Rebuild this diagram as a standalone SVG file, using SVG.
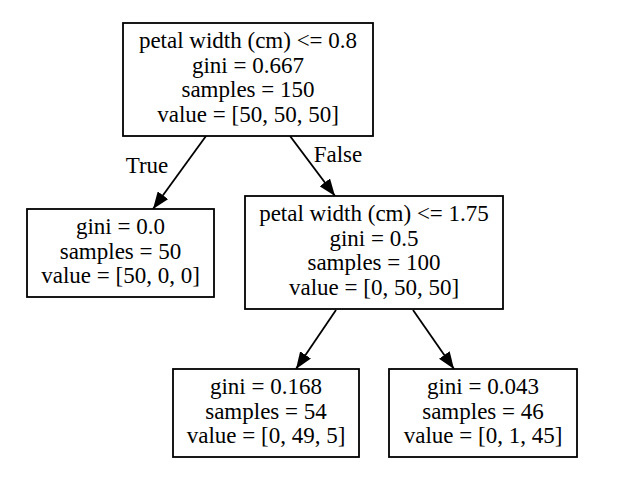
<svg xmlns="http://www.w3.org/2000/svg" width="623" height="478" viewBox="0 0 623 478">
<style>
.box{fill:#fff;stroke:#000;stroke-width:1.8}
text{font-family:"Liberation Serif","Times New Roman",serif;font-size:23px;fill:#000;text-anchor:middle}
.edge{stroke:#000;stroke-width:1.8;fill:none;marker-end:url(#ah)}
</style>
<defs>
<marker id="ah" viewBox="0 0 17 13" refX="17" refY="6.5" markerWidth="17" markerHeight="13" orient="auto" markerUnits="userSpaceOnUse">
<path d="M0,0 L17,6.5 L0,13 z" fill="#000"/>
</marker>
</defs>
<rect width="623" height="478" fill="#fff"/>
<g id="connectors">
<line class="edge" x1="206" y1="136" x2="153" y2="209"/>
<line class="edge" x1="290" y1="136" x2="335" y2="196"/>
<line class="edge" x1="336" y1="310" x2="296" y2="369"/>
<line class="edge" x1="413" y1="310" x2="454" y2="369"/>
<text x="147" y="173">True</text>
<text x="338" y="162">False</text>
</g>
<g id="node0">
<rect class="box" x="123" y="23" width="250" height="113"/>
<text x="248" y="48">petal width (cm) &lt;= 0.8</text>
<text x="248" y="72.5">gini = 0.667</text>
<text x="248" y="97">samples = 150</text>
<text x="248" y="121.5">value = [50, 50, 50]</text>
</g>
<g id="node1">
<rect class="box" x="27" y="209" width="187" height="88"/>
<text x="120.5" y="234">gini = 0.0</text>
<text x="120.5" y="258.5">samples = 50</text>
<text x="120.5" y="283">value = [50, 0, 0]</text>
</g>
<g id="node2">
<rect class="box" x="245" y="196" width="258" height="113"/>
<text x="374" y="221">petal width (cm) &lt;= 1.75</text>
<text x="374" y="245.5">gini = 0.5</text>
<text x="374" y="270">samples = 100</text>
<text x="374" y="294.5">value = [0, 50, 50]</text>
</g>
<g id="node3">
<rect class="box" x="173" y="369" width="186" height="88"/>
<text x="266" y="394">gini = 0.168</text>
<text x="266" y="418.5">samples = 54</text>
<text x="266" y="443">value = [0, 49, 5]</text>
</g>
<g id="node4">
<rect class="box" x="389" y="369" width="188" height="88"/>
<text x="483" y="394">gini = 0.043</text>
<text x="483" y="418.5">samples = 46</text>
<text x="483" y="443">value = [0, 1, 45]</text>
</g>
</svg>
